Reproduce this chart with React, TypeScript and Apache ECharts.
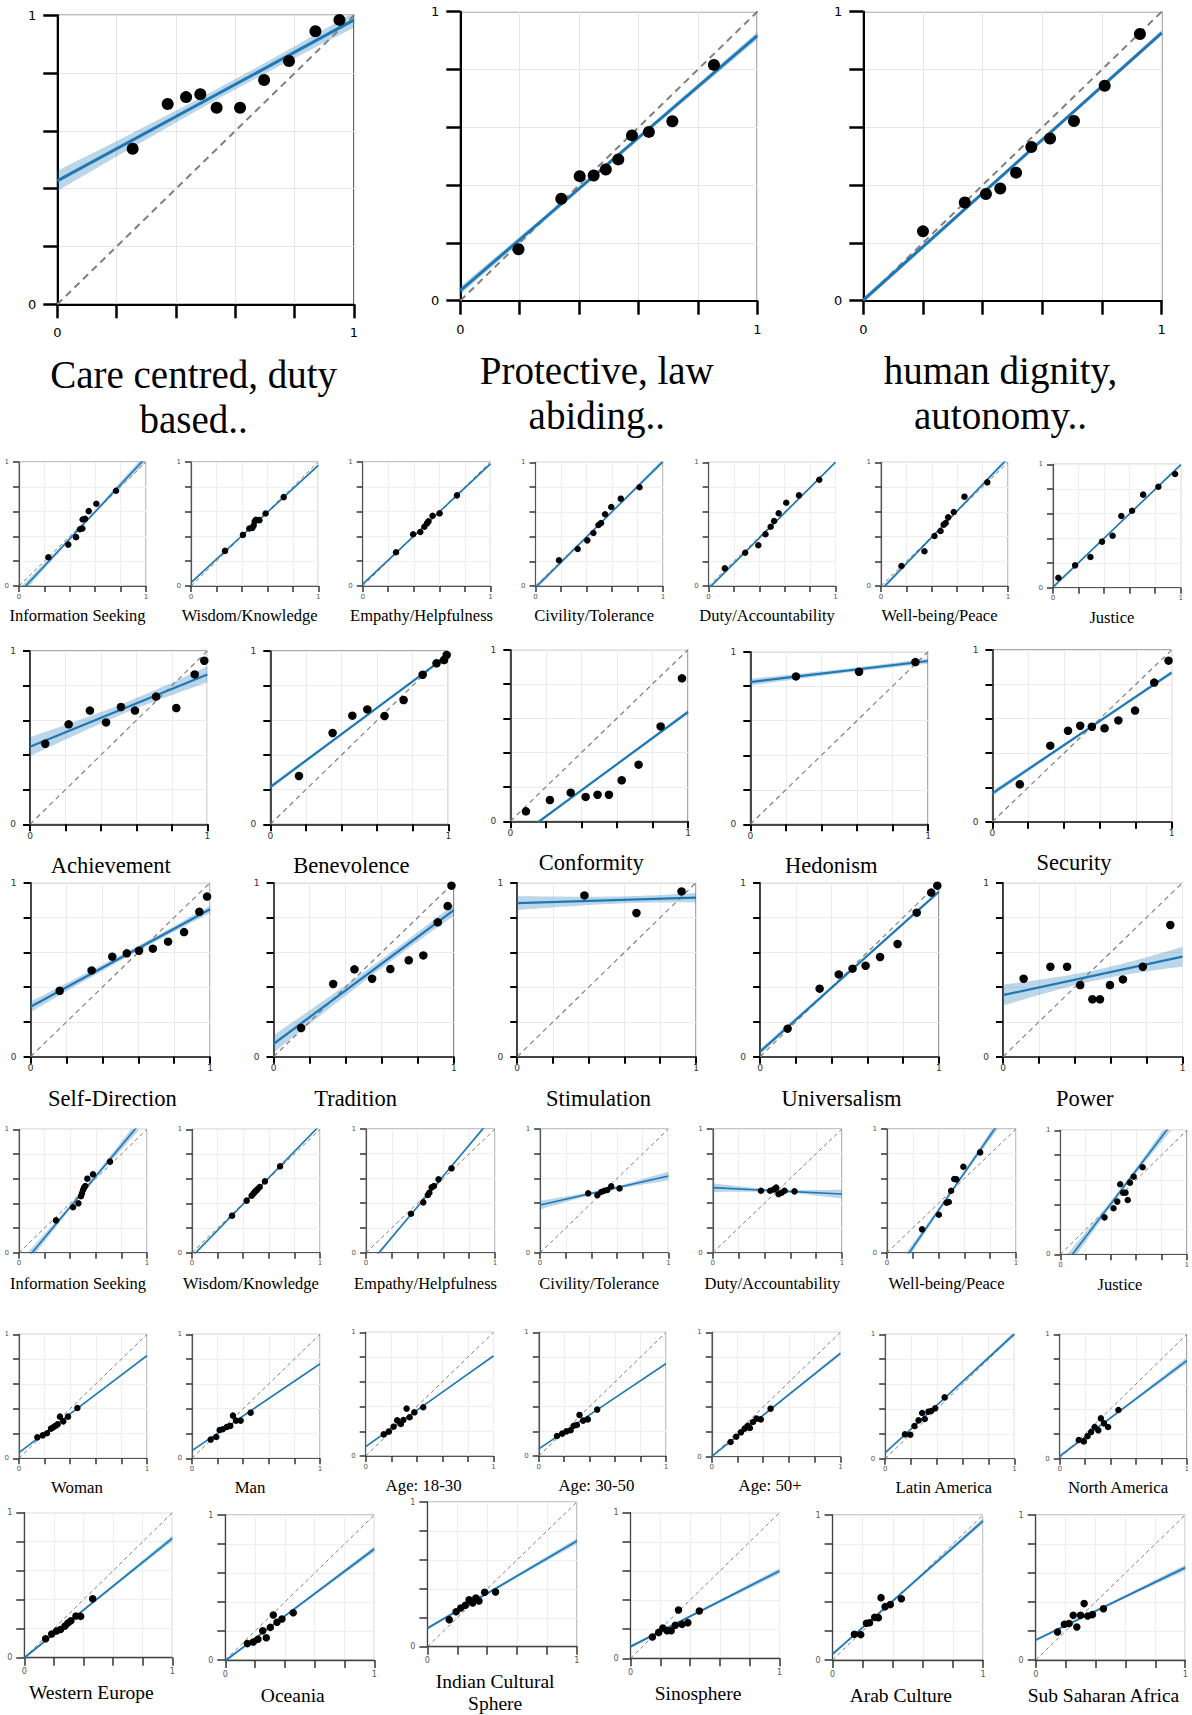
import React, { useEffect, useRef } from "react";
import * as echarts from "echarts";

// ======================= DATA =======================
// Row 1 (large panels)
const bigLabels = [["Care centred, duty", "based.."], ["Protective, law", "abiding.."], ["human dignity,", "autonomy.."]];
const bigX = [
  [0.254, 0.372, 0.434, 0.482, 0.537, 0.616, 0.697, 0.781, 0.87, 0.951],
  [0.196, 0.34, 0.402, 0.449, 0.49, 0.532, 0.578, 0.635, 0.714, 0.854],
  [0.2, 0.34, 0.411, 0.459, 0.512, 0.563, 0.626, 0.706, 0.809, 0.927],
];
const bigY = [
  [0.538, 0.693, 0.717, 0.727, 0.68, 0.68, 0.776, 0.842, 0.945, 0.984],
  [0.178, 0.353, 0.431, 0.433, 0.454, 0.489, 0.572, 0.584, 0.621, 0.816],
  [0.24, 0.34, 0.369, 0.388, 0.443, 0.532, 0.561, 0.622, 0.744, 0.923],
];
const bigIntercept = [0.427, 0.035, 0.002];
const bigSlope = [0.557, 0.882, 0.925];
const bigBandEnd = [0.035, 0.014, 0.01];
const bigBandMid = [0.018, 0.007, 0.006];

// Row 2 (values, first model)
const valueLabels = ["Information Seeking", "Wisdom/Knowledge", "Empathy/Helpfulness", "Civility/Tolerance", "Duty/Accountability", "Well-being/Peace", "Justice"];
const row2X = [
  [0.231, 0.388, 0.449, 0.48, 0.499, 0.501, 0.52, 0.549, 0.609, 0.764],
  [0.267, 0.408, 0.458, 0.482, 0.492, 0.5, 0.51, 0.537, 0.586, 0.728],
  [0.261, 0.395, 0.451, 0.483, 0.503, 0.515, 0.547, 0.602, 0.738],
  [0.184, 0.331, 0.406, 0.454, 0.494, 0.514, 0.546, 0.594, 0.669, 0.816],
  [0.128, 0.288, 0.392, 0.448, 0.489, 0.516, 0.552, 0.612, 0.712, 0.872],
  [0.161, 0.342, 0.421, 0.469, 0.494, 0.509, 0.529, 0.573, 0.657, 0.837],
  [0.042, 0.173, 0.293, 0.384, 0.467, 0.535, 0.619, 0.706, 0.825, 0.956],
];
const row2Y = [
  [0.232, 0.334, 0.394, 0.458, 0.464, 0.536, 0.542, 0.604, 0.663, 0.768],
  [0.283, 0.412, 0.464, 0.469, 0.488, 0.52, 0.534, 0.531, 0.585, 0.717],
  [0.272, 0.417, 0.435, 0.478, 0.505, 0.521, 0.567, 0.586, 0.731],
  [0.208, 0.299, 0.369, 0.428, 0.493, 0.509, 0.58, 0.639, 0.706, 0.798],
  [0.143, 0.269, 0.329, 0.418, 0.479, 0.525, 0.588, 0.673, 0.733, 0.859],
  [0.162, 0.281, 0.404, 0.445, 0.496, 0.509, 0.555, 0.598, 0.722, 0.838],
  [0.081, 0.181, 0.249, 0.373, 0.421, 0.581, 0.624, 0.754, 0.818, 0.921],
];
const row2Intercept = [-0.057, 0.027, 0.015, -0.012, -0.02, -0.032, 0.005];
const row2Slope = [1.094, 0.946, 0.97, 1.02, 1.02, 1.066, 0.99];
const row2BandEnd = [0.035, 0.008, 0.008, 0.02, 0.012, 0.02, 0.01];
const row2BandMid = [0.012, 0.004, 0.004, 0.008, 0.005, 0.008, 0.005];

// Row 3 (Schwartz values, part 1)
const row3Labels = ["Achievement", "Benevolence", "Conformity", "Hedonism", "Security"];
const row3X = [
  [0.086, 0.218, 0.338, 0.429, 0.513, 0.592, 0.711, 0.825, 0.929, 0.983],
  [0.161, 0.35, 0.461, 0.545, 0.642, 0.749, 0.856, 0.934, 0.976, 0.991],
  [0.088, 0.223, 0.34, 0.424, 0.491, 0.555, 0.627, 0.722, 0.846, 0.966],
  [0.257, 0.612, 0.929],
  [0.153, 0.323, 0.422, 0.49, 0.555, 0.626, 0.703, 0.796, 0.903, 0.983],
];
const row3Y = [
  [0.465, 0.577, 0.656, 0.588, 0.677, 0.656, 0.737, 0.671, 0.865, 0.944],
  [0.279, 0.527, 0.627, 0.663, 0.625, 0.717, 0.863, 0.929, 0.948, 0.977],
  [0.058, 0.124, 0.167, 0.142, 0.155, 0.155, 0.239, 0.33, 0.553, 0.833],
  [0.857, 0.884, 0.94],
  [0.218, 0.443, 0.53, 0.559, 0.553, 0.544, 0.59, 0.647, 0.81, 0.938],
];
const row3Intercept = [0.448, 0.215, -0.124, 0.824, 0.165];
const row3Slope = [0.417, 0.762, 0.761, 0.122, 0.703];
const row3BandEnd = [0.055, 0.012, 0.012, 0.02, 0.015];
const row3BandMid = [0.03, 0.006, 0.006, 0.012, 0.008];

// Row 4 (Schwartz values, part 2)
const row4Labels = ["Self-Direction", "Tradition", "Stimulation", "Universalism", "Power"];
const row4X = [
  [0.162, 0.34, 0.455, 0.536, 0.604, 0.681, 0.766, 0.855, 0.94, 0.983],
  [0.153, 0.331, 0.449, 0.547, 0.648, 0.75, 0.831, 0.911, 0.966, 0.987],
  [0.376, 0.667, 0.919],
  [0.154, 0.333, 0.44, 0.517, 0.59, 0.671, 0.769, 0.876, 0.957, 0.991],
  [0.115, 0.264, 0.357, 0.43, 0.498, 0.54, 0.596, 0.668, 0.779, 0.932],
];
const row4Y = [
  [0.379, 0.496, 0.575, 0.594, 0.609, 0.621, 0.661, 0.716, 0.833, 0.92],
  [0.165, 0.418, 0.502, 0.448, 0.504, 0.554, 0.582, 0.772, 0.866, 0.983],
  [0.927, 0.826, 0.95],
  [0.161, 0.391, 0.473, 0.506, 0.523, 0.573, 0.648, 0.828, 0.943, 0.983],
  [0.448, 0.517, 0.517, 0.412, 0.33, 0.33, 0.412, 0.444, 0.517, 0.757],
];
const row4Intercept = [0.287, 0.073, 0.883, 0.029, 0.354];
const row4Slope = [0.56, 0.77, 0.031, 0.919, 0.221];
const row4BandEnd = [0.03, 0.05, 0.04, 0.015, 0.06];
const row4BandMid = [0.015, 0.025, 0.02, 0.008, 0.03];

// Row 5 (values, second model)
const row5X = [
  [0.289, 0.422, 0.464, 0.484, 0.492, 0.5, 0.508, 0.518, 0.534, 0.578, 0.711],
  [0.313, 0.427, 0.466, 0.482, 0.492, 0.503, 0.513, 0.529, 0.57, 0.688],
  [0.349, 0.444, 0.479, 0.491, 0.509, 0.527, 0.562, 0.663],
  [0.375, 0.446, 0.476, 0.5, 0.524, 0.554, 0.619],
  [0.373, 0.444, 0.473, 0.491, 0.509, 0.533, 0.556, 0.633],
  [0.272, 0.402, 0.462, 0.479, 0.497, 0.521, 0.538, 0.592, 0.722],
  [0.349, 0.42, 0.45, 0.473, 0.497, 0.515, 0.533, 0.55, 0.58, 0.651],
];
const row5Y = [
  [0.262, 0.368, 0.4, 0.457, 0.481, 0.508, 0.527, 0.541, 0.6, 0.635, 0.738],
  [0.3, 0.422, 0.462, 0.481, 0.495, 0.505, 0.516, 0.532, 0.578, 0.7],
  [0.315, 0.407, 0.466, 0.485, 0.528, 0.539, 0.593, 0.682],
  [0.48, 0.464, 0.491, 0.501, 0.507, 0.536, 0.52],
  [0.501, 0.501, 0.512, 0.526, 0.474, 0.485, 0.501, 0.496],
  [0.189, 0.307, 0.404, 0.41, 0.501, 0.596, 0.593, 0.695, 0.811],
  [0.298, 0.371, 0.425, 0.565, 0.497, 0.497, 0.438, 0.578, 0.626, 0.702],
];
const row5Intercept = [-0.127, -0.031, -0.125, 0.385, 0.526, -0.26, -0.128];
const row5Slope = [1.244, 1.064, 1.244, 0.235, -0.052, 1.51, 1.342];
const row5BandEnd = [0.05, 0.01, 0.015, 0.035, 0.035, 0.05, 0.06];
const row5BandMid = [0.015, 0.004, 0.006, 0.01, 0.01, 0.015, 0.02];

// Row 6 (demographics)
const row6Labels = ["Woman", "Man", "Age: 18-30", "Age: 30-50", "Age: 50+", "Latin America", "North America"];
const row6X = [
  [0.143, 0.185, 0.219, 0.25, 0.268, 0.284, 0.302, 0.32, 0.346, 0.383, 0.456],
  [0.146, 0.19, 0.216, 0.24, 0.273, 0.299, 0.32, 0.344, 0.38, 0.458],
  [0.141, 0.181, 0.218, 0.246, 0.275, 0.295, 0.32, 0.344, 0.381, 0.45],
  [0.143, 0.184, 0.217, 0.25, 0.275, 0.299, 0.32, 0.348, 0.385, 0.459],
  [0.146, 0.19, 0.227, 0.255, 0.279, 0.296, 0.32, 0.348, 0.381, 0.457],
  [0.153, 0.194, 0.226, 0.258, 0.286, 0.306, 0.335, 0.355, 0.387, 0.46],
  [0.15, 0.19, 0.219, 0.247, 0.275, 0.304, 0.324, 0.348, 0.381, 0.462],
];
const row6Y = [
  [0.169, 0.185, 0.202, 0.239, 0.25, 0.261, 0.274, 0.336, 0.298, 0.336, 0.406],
  [0.151, 0.172, 0.228, 0.234, 0.253, 0.261, 0.344, 0.304, 0.304, 0.368],
  [0.175, 0.197, 0.237, 0.288, 0.259, 0.291, 0.383, 0.313, 0.353, 0.394],
  [0.162, 0.181, 0.199, 0.208, 0.245, 0.251, 0.332, 0.286, 0.296, 0.375],
  [0.118, 0.161, 0.196, 0.225, 0.249, 0.231, 0.279, 0.306, 0.3, 0.386],
  [0.196, 0.193, 0.263, 0.308, 0.367, 0.319, 0.378, 0.383, 0.405, 0.493],
  [0.15, 0.139, 0.18, 0.214, 0.255, 0.228, 0.324, 0.284, 0.255, 0.391],
];
const row6Intercept = [0.046, 0.062, 0.075, 0.057, 0.003, 0.048, 0.021];
const row6Slope = [0.782, 0.7, 0.734, 0.69, 0.828, 0.955, 0.767];
const row6BandEnd = [0.01, 0.01, 0.01, 0.01, 0.015, 0.02, 0.025];
const row6BandMid = [0.005, 0.005, 0.005, 0.005, 0.006, 0.008, 0.008];

// Row 7 (cultural regions)
const row7Labels = [["Western Europe"], ["Oceania"], ["Indian Cultural", "Sphere"], ["Sinosphere"], ["Arab Culture"], ["Sub Saharan Africa"]];
const row7X = [
  [0.144, 0.185, 0.218, 0.245, 0.275, 0.295, 0.315, 0.349, 0.381, 0.462],
  [0.148, 0.188, 0.219, 0.251, 0.275, 0.302, 0.322, 0.347, 0.38, 0.456],
  [0.146, 0.192, 0.223, 0.254, 0.279, 0.303, 0.324, 0.345, 0.383, 0.456],
  [0.147, 0.189, 0.217, 0.245, 0.273, 0.301, 0.322, 0.346, 0.385, 0.462],
  [0.145, 0.187, 0.225, 0.246, 0.28, 0.304, 0.322, 0.349, 0.384, 0.457],
  [0.146, 0.192, 0.223, 0.251, 0.275, 0.3, 0.324, 0.348, 0.38, 0.453],
];
const row7Y = [
  [0.131, 0.163, 0.184, 0.195, 0.218, 0.239, 0.255, 0.287, 0.285, 0.407],
  [0.113, 0.124, 0.143, 0.202, 0.154, 0.225, 0.31, 0.26, 0.283, 0.326],
  [0.187, 0.242, 0.267, 0.286, 0.325, 0.302, 0.336, 0.316, 0.376, 0.378],
  [0.146, 0.178, 0.208, 0.19, 0.19, 0.227, 0.332, 0.233, 0.245, 0.325],
  [0.177, 0.175, 0.253, 0.257, 0.294, 0.292, 0.43, 0.368, 0.382, 0.423],
  [0.193, 0.246, 0.251, 0.308, 0.228, 0.308, 0.389, 0.303, 0.313, 0.354],
];
const row7Intercept = [0.0, -0.005, 0.127, 0.08, 0.041, 0.138];
const row7Slope = [0.823, 0.77, 0.603, 0.52, 0.918, 0.499];
const row7BandEnd = [0.02, 0.02, 0.02, 0.02, 0.02, 0.02];
const row7BandMid = [0.006, 0.006, 0.008, 0.008, 0.008, 0.008];

// ======================= LAYOUT =======================
// panel rectangles: [left, top, width, height]
const bigRects = [[57.3, 15.3, 296.7, 289], [460.3, 11.7, 297, 289], [863.3, 11.7, 298.4, 289]];
const row2Rects = [[19, 462, 127, 124], [191, 462, 127.3, 124], [362.7, 462, 127.7, 124], [535.5, 462.3, 127.5, 123.7], [708.6, 462.3, 126.9, 123.7], [881, 462.3, 127, 123.7], [1053, 464.3, 127.7, 123.4]];
const row3Rects = [[30, 651, 177.3, 173.3], [270.3, 651, 178, 173.3], [510.3, 649.7, 177.7, 171.6], [750.3, 651.7, 177.7, 172.6], [992.4, 650, 179.2, 171.7]];
const row4Rects = [[30.6, 882.7, 179.5, 174], [273.5, 882.7, 180.3, 174], [517.2, 882.7, 178.8, 174], [760.1, 882.7, 178.8, 174], [1003, 882.7, 179.5, 174]];
const row5Rects = [[19, 1129.3, 128, 123.4], [192, 1129.3, 128, 123.4], [366, 1129, 129, 123.7], [540.1, 1129, 128.3, 123.7], [712.8, 1129, 129.1, 123.7], [887, 1129, 129, 123.7], [1060.4, 1130.3, 129.1, 124]];
const row6Rects = [[19, 1334.3, 128, 124], [192, 1334.3, 128, 124], [365.7, 1332.3, 127.8, 123.7], [538.8, 1332.3, 127.2, 123.7], [711.8, 1332.3, 128.6, 124.4], [885.2, 1334.3, 129.2, 124.4], [1059.7, 1334.3, 128.6, 124.4]];
const row7Rects = [[24.3, 1512.7, 148, 145], [225.3, 1515, 149, 145], [427.4, 1502, 149.5, 144.7], [630.5, 1512.7, 149, 145.6], [832.6, 1515, 150.4, 145], [1035.7, 1515, 149.5, 145]];

const BLUE = "#1f77b4";
const BAND = "rgba(31,119,180,0.3)";
const SERIF = '"Liberation Serif", "Times New Roman", Times, serif';

const STY: Record<string, any> = {
  big: { pt: 12, reg: 3, diag: 2, dash: [7, 5], tickLen: 14, tickW: 2.5, tickColor: "#000", axisW: 2, axisColor: "#000", border: "#000", borderW: 1.2, lab: 13, labColor: "#000", xm: 22, ym: 21, split: "#e6e6e6" },
  mid: { pt: 8.5, reg: 2.2, diag: 1.2, dash: [5, 4], tickLen: 7, tickW: 2, tickColor: "#000", axisW: 1.5, axisColor: "#111", border: "#555", borderW: 1, lab: 9, labColor: "#333", xm: 7, ym: 14, split: "#ebebeb" },
  small: { pt: 6.5, reg: 1.6, diag: 1, dash: [4, 3], tickLen: 6, tickW: 1.5, tickColor: "#333", axisW: 1.2, axisColor: "#555", border: "#888", borderW: 1, lab: 7, labColor: "#555", xm: 7, ym: 10, split: "#eeeeee" },
  r7: { pt: 7.5, reg: 1.8, diag: 1, dash: [4, 3], tickLen: 8, tickW: 1.5, tickColor: "#333", axisW: 1.3, axisColor: "#444", border: "#999", borderW: 1, lab: 8, labColor: "#555", xm: 10, ym: 12, split: "#eeeeee" },
};

const ROWS = [
  { kind: "big", rects: bigRects, labels: bigLabels, X: bigX, Y: bigY, B: bigIntercept, M: bigSlope, HE: bigBandEnd, HM: bigBandMid, dy: 70, dx: -12, fs: 39, gap: 45 },
  { kind: "small", rects: row2Rects, labels: valueLabels.map((s) => [s]), X: row2X, Y: row2Y, B: row2Intercept, M: row2Slope, HE: row2BandEnd, HM: row2BandMid, dy: 29.5, dx: -5, fs: 16.5, gap: 20 },
  { kind: "mid", rects: row3Rects, labels: row3Labels.map((s) => [s]), X: row3X, Y: row3Y, B: row3Intercept, M: row3Slope, HE: row3BandEnd, HM: row3BandMid, dy: 41, dx: -8, fs: 22.5, gap: 24 },
  { kind: "mid", rects: row4Rects, labels: row4Labels.map((s) => [s]), X: row4X, Y: row4Y, B: row4Intercept, M: row4Slope, HE: row4BandEnd, HM: row4BandMid, dy: 41.3, dx: -8, fs: 22.5, gap: 24 },
  { kind: "small", rects: row5Rects, labels: valueLabels.map((s) => [s]), X: row5X, Y: row5Y, B: row5Intercept, M: row5Slope, HE: row5BandEnd, HM: row5BandMid, dy: 30.3, dx: -5, fs: 16.5, gap: 20 },
  { kind: "small", rects: row6Rects, labels: row6Labels.map((s) => [s]), X: row6X, Y: row6Y, B: row6Intercept, M: row6Slope, HE: row6BandEnd, HM: row6BandMid, dy: 29, dx: -6, fs: 16.8, gap: 20 },
  { kind: "r7", rects: row7Rects, labels: row7Labels, X: row7X, Y: row7Y, B: row7Intercept, M: row7Slope, HE: row7BandEnd, HM: row7BandMid, dy: 35, dx: -7, fs: 19.5, gap: 22 },
];

// clip polygon to the unit square (Sutherland-Hodgman)
function clipUnit(poly: number[][]): number[][] {
  const edges: [number, number, boolean][] = [[0, 0, true], [0, 1, false], [1, 0, true], [1, 1, false]];
  let out = poly;
  for (const [k, c, keepGreater] of edges) {
    const inp = out;
    out = [];
    if (!inp.length) break;
    const inside = (p: number[]) => (keepGreater ? p[k] >= c : p[k] <= c);
    const inter = (a: number[], b: number[]) => {
      const t = (c - a[k]) / (b[k] - a[k]);
      return [a[0] + t * (b[0] - a[0]), a[1] + t * (b[1] - a[1])];
    };
    for (let i = 0; i < inp.length; i++) {
      const cur = inp[i];
      const prev = inp[(i + inp.length - 1) % inp.length];
      if (inside(cur)) {
        if (!inside(prev)) out.push(inter(prev, cur));
        out.push(cur);
      } else if (inside(prev)) {
        out.push(inter(prev, cur));
      }
    }
  }
  return out;
}

function bandPolygon(b: number, m: number, he: number, hm: number, xs: number[]) {
  const xc = xs.reduce((a, v) => a + v, 0) / xs.length;
  const dmax = Math.max(xc, 1 - xc);
  const k2 = Math.max(0, he * he - hm * hm) / (dmax * dmax);
  const up: number[][] = [];
  const lo: number[][] = [];
  for (let j = 0; j <= 40; j++) {
    const x = j / 40;
    const hw = Math.sqrt(hm * hm + k2 * (x - xc) * (x - xc));
    up.push([x, b + m * x + hw]);
    lo.push([x, b + m * x - hw]);
  }
  return clipUnit(up.concat(lo.reverse()));
}

function buildOption() {
  const grid: any[] = [];
  const xAxis: any[] = [];
  const yAxis: any[] = [];
  const series: any[] = [];
  const graphic: any[] = [];
  let gi = 0;
  ROWS.forEach((row) => {
    const s = STY[row.kind];
    row.rects.forEach((rect, j) => {
      const [l, t, w, h] = rect;
      const i = gi++;
      grid.push({ left: l, top: t, width: w, height: h, show: true, borderColor: s.border, borderWidth: s.borderW, backgroundColor: "transparent" });
      const axis = (isX: boolean) => ({
        type: "value",
        gridIndex: i,
        min: 0,
        max: 1,
        interval: 0.2,
        axisLine: { show: true, onZero: false, lineStyle: { color: s.axisColor, width: s.axisW } },
        axisTick: { show: true, inside: false, length: s.tickLen, lineStyle: { color: s.tickColor, width: s.tickW } },
        splitLine: { show: true, lineStyle: { color: s.split, width: 1 } },
        axisLabel: {
          show: true,
          showMinLabel: true,
          showMaxLabel: true,
          fontSize: s.lab,
          color: s.labColor,
          fontFamily: "DejaVu Sans",
          margin: isX ? s.xm : s.ym,
          formatter: (v: number) => (Math.abs(v) < 1e-9 ? "0" : Math.abs(v - 1) < 1e-9 ? "1" : ""),
        },
      });
      xAxis.push(axis(true));
      yAxis.push(axis(false));

      const xs = row.X[j];
      const ys = row.Y[j];
      const b = row.B[j];
      const m = row.M[j];
      const poly = bandPolygon(b, m, row.HE[j], row.HM[j], xs);

      series.push({
        type: "custom",
        xAxisIndex: i,
        yAxisIndex: i,
        clip: true,
        silent: true,
        z: 2,
        data: [[0, 0]],
        renderItem: (_p: any, api: any) => ({
          type: "polygon",
          shape: { points: poly.map((pt) => api.coord(pt)) },
          style: { fill: BAND, stroke: null },
        }),
      });
      series.push({
        type: "line",
        xAxisIndex: i,
        yAxisIndex: i,
        data: [[0, 0], [1, 1]],
        symbol: "none",
        silent: true,
        z: 3,
        lineStyle: { color: "#808080", width: s.diag, type: s.dash },
      });
      series.push({
        type: "line",
        xAxisIndex: i,
        yAxisIndex: i,
        data: [[0, b], [1, b + m]],
        symbol: "none",
        silent: true,
        clip: true,
        z: 4,
        lineStyle: { color: BLUE, width: s.reg },
      });
      series.push({
        type: "scatter",
        xAxisIndex: i,
        yAxisIndex: i,
        data: xs.map((x, k) => [x, ys[k]]),
        symbolSize: s.pt,
        silent: true,
        z: 5,
        itemStyle: { color: "#000", opacity: 1 },
      });

      const cx = l + w / 2 + row.dx;
      const cy0 = t + h + row.dy;
      row.labels[j].forEach((line: string, k: number) => {
        graphic.push({
          type: "text",
          x: cx,
          y: cy0 + k * row.gap,
          silent: true,
          style: {
            text: line,
            font: `normal ${row.fs}px ${SERIF}`,
            fontSize: row.fs,
            fontFamily: SERIF,
            fill: "#000",
            align: "center",
            verticalAlign: "middle",
            textAlign: "center",
            textVerticalAlign: "middle",
          },
        });
      });
    });
  });
  return { animation: false, backgroundColor: "#fff", grid, xAxis, yAxis, series, graphic };
}

export default function App() {
  const ref = useRef<HTMLDivElement>(null);
  useEffect(() => {
    if (!ref.current) return;
    const chart = echarts.init(ref.current, null, { renderer: "svg" });
    chart.setOption(buildOption() as any);
    return () => chart.dispose();
  }, []);
  return <div ref={ref} style={{ position: "absolute", left: 0, top: 0, width: 1192, height: 1715, background: "#fff" }} />;
}
